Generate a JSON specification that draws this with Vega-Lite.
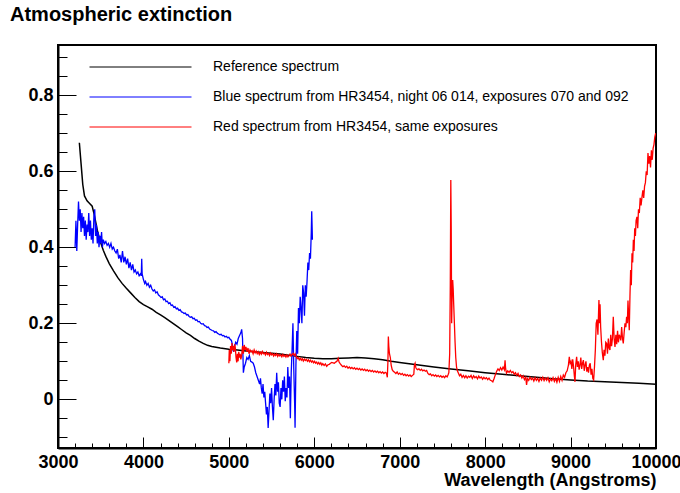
{
  "$schema": "https://vega.github.io/schema/vega-lite/v6.json",
  "width": 598,
  "height": 403,
  "autosize": "none",
  "padding": {"left": 58, "top": 45, "right": 24, "bottom": 45},
  "background": "white",
  "config": {
    "font": "Liberation Sans",
    "view": {"stroke": "#000000", "strokeWidth": 2},
    "axis": {"domainColor": "#000000", "domainWidth": 2, "tickColor": "#000000", "tickWidth": 1, "labelColor": "#000000", "titleColor": "#000000", "grid": false}
  },
  "title": {"text": "Atmospheric extinction", "anchor": "start", "frame": "group", "dx": -48, "dy": -16, "fontSize": 20, "fontWeight": "bold", "font": "Liberation Sans", "color": "#000000"},
  "datasets": {
    "reference": [
      {"w":3250,"v":0.675},{"w":3270,"v":0.62},{"w":3290,"v":0.565},{"w":3310,"v":0.535},{"w":3340,"v":0.522},{"w":3370,"v":0.515},{"w":3400,"v":0.508},{"w":3420,"v":0.49},{"w":3440,"v":0.468},{"w":3460,"v":0.445},{"w":3480,"v":0.428},{"w":3500,"v":0.412},{"w":3530,"v":0.392},{"w":3560,"v":0.376},{"w":3600,"v":0.357},{"w":3650,"v":0.338},{"w":3700,"v":0.32},{"w":3750,"v":0.305},{"w":3800,"v":0.292},{"w":3850,"v":0.28},{"w":3900,"v":0.268},{"w":3950,"v":0.257},{"w":4000,"v":0.249},{"w":4050,"v":0.243},{"w":4100,"v":0.237},{"w":4150,"v":0.229},{"w":4200,"v":0.222},{"w":4250,"v":0.215},{"w":4300,"v":0.207},{"w":4350,"v":0.199},{"w":4400,"v":0.191},{"w":4450,"v":0.183},{"w":4500,"v":0.175},{"w":4550,"v":0.168},{"w":4600,"v":0.16},{"w":4650,"v":0.153},{"w":4700,"v":0.147},{"w":4750,"v":0.142},{"w":4800,"v":0.139},{"w":4850,"v":0.137},{"w":4900,"v":0.135},{"w":5000,"v":0.132},{"w":5100,"v":0.13},{"w":5200,"v":0.127},{"w":5300,"v":0.125},{"w":5400,"v":0.123},{"w":5500,"v":0.121},{"w":5600,"v":0.119},{"w":5700,"v":0.116},{"w":5800,"v":0.113},{"w":5900,"v":0.11},{"w":6000,"v":0.108},{"w":6100,"v":0.107},{"w":6200,"v":0.107},{"w":6300,"v":0.108},{"w":6400,"v":0.109},{"w":6500,"v":0.11},{"w":6600,"v":0.109},{"w":6700,"v":0.107},{"w":6800,"v":0.104},{"w":6900,"v":0.1},{"w":7000,"v":0.097},{"w":7200,"v":0.091},{"w":7400,"v":0.085},{"w":7600,"v":0.08},{"w":7800,"v":0.075},{"w":8000,"v":0.07},{"w":8200,"v":0.066},{"w":8400,"v":0.062},{"w":8600,"v":0.058},{"w":8800,"v":0.054},{"w":9000,"v":0.051},{"w":9200,"v":0.048},{"w":9400,"v":0.046},{"w":9600,"v":0.044},{"w":9800,"v":0.042},{"w":10000,"v":0.04}
    ],
    "blue": [
      {"w":3200,"v":0.40},{"w":3210,"v":0.47},{"w":3220,"v":0.39},{"w":3230,"v":0.46},{"w":3240,"v":0.52},{"w":3250,"v":0.47},{"w":3260,"v":0.50},{"w":3270,"v":0.44},{"w":3280,"v":0.49},{"w":3290,"v":0.45},{"w":3300,"v":0.48},{"w":3310,"v":0.43},{"w":3320,"v":0.47},{"w":3330,"v":0.42},{"w":3340,"v":0.46},{"w":3350,"v":0.44},{"w":3360,"v":0.49},{"w":3370,"v":0.43},{"w":3380,"v":0.47},{"w":3390,"v":0.42},{"w":3400,"v":0.45},{"w":3410,"v":0.41},{"w":3420,"v":0.48},{"w":3430,"v":0.50},{"w":3440,"v":0.43},{"w":3450,"v":0.46},{"w":3460,"v":0.41},{"w":3470,"v":0.44},{"w":3480,"v":0.40},{"w":3490,"v":0.43},{"w":3500,"v":0.41},{"w":3510,"v":0.44},{"w":3520,"v":0.40},{"w":3530,"v":0.42},{"w":3545,"v":0.41},{"w":3560,"v":0.415},{"w":3575,"v":0.405},{"w":3590,"v":0.41},{"w":3605,"v":0.40},{"w":3620,"v":0.41},{"w":3635,"v":0.395},{"w":3650,"v":0.40},{"w":3665,"v":0.39},{"w":3680,"v":0.385},{"w":3695,"v":0.395},{"w":3710,"v":0.37},{"w":3725,"v":0.38},{"w":3740,"v":0.36},{"w":3755,"v":0.39},{"w":3770,"v":0.36},{"w":3785,"v":0.375},{"w":3800,"v":0.355},{"w":3815,"v":0.37},{"w":3830,"v":0.345},{"w":3845,"v":0.36},{"w":3860,"v":0.34},{"w":3875,"v":0.355},{"w":3890,"v":0.335},{"w":3905,"v":0.34},{"w":3920,"v":0.33},{"w":3935,"v":0.335},{"w":3950,"v":0.325},{"w":3965,"v":0.33},{"w":3975,"v":0.325},{"w":3980,"v":0.37},{"w":3985,"v":0.33},{"w":4000,"v":0.315},{"w":4015,"v":0.305},{"w":4025,"v":0.31},{"w":4040,"v":0.30},{"w":4055,"v":0.305},{"w":4070,"v":0.295},{"w":4085,"v":0.30},{"w":4100,"v":0.29},{"w":4115,"v":0.285},{"w":4130,"v":0.288},{"w":4145,"v":0.28},{"w":4160,"v":0.283},{"w":4175,"v":0.275},{"w":4190,"v":0.272},{"w":4205,"v":0.268},{"w":4220,"v":0.27},{"w":4235,"v":0.262},{"w":4250,"v":0.264},{"w":4265,"v":0.257},{"w":4280,"v":0.258},{"w":4295,"v":0.252},{"w":4310,"v":0.254},{"w":4325,"v":0.247},{"w":4340,"v":0.248},{"w":4355,"v":0.242},{"w":4370,"v":0.244},{"w":4385,"v":0.238},{"w":4400,"v":0.24},{"w":4415,"v":0.234},{"w":4430,"v":0.236},{"w":4445,"v":0.23},{"w":4460,"v":0.229},{"w":4475,"v":0.226},{"w":4490,"v":0.227},{"w":4505,"v":0.222},{"w":4520,"v":0.223},{"w":4535,"v":0.218},{"w":4550,"v":0.216},{"w":4565,"v":0.217},{"w":4580,"v":0.212},{"w":4595,"v":0.213},{"w":4610,"v":0.208},{"w":4625,"v":0.209},{"w":4640,"v":0.204},{"w":4655,"v":0.205},{"w":4670,"v":0.2},{"w":4685,"v":0.198},{"w":4700,"v":0.199},{"w":4715,"v":0.194},{"w":4730,"v":0.193},{"w":4745,"v":0.189},{"w":4760,"v":0.19},{"w":4775,"v":0.185},{"w":4790,"v":0.183},{"w":4805,"v":0.181},{"w":4820,"v":0.18},{"w":4835,"v":0.176},{"w":4850,"v":0.178},{"w":4865,"v":0.174},{"w":4880,"v":0.172},{"w":4895,"v":0.17},{"w":4910,"v":0.171},{"w":4925,"v":0.167},{"w":4940,"v":0.168},{"w":4955,"v":0.164},{"w":4970,"v":0.166},{"w":4985,"v":0.162},{"w":5000,"v":0.163},{"w":5015,"v":0.158},{"w":5030,"v":0.155},{"w":5045,"v":0.14},{"w":5055,"v":0.125},{"w":5065,"v":0.138},{"w":5080,"v":0.15},{"w":5095,"v":0.145},{"w":5110,"v":0.16},{"w":5125,"v":0.168},{"w":5140,"v":0.175},{"w":5150,"v":0.184},{"w":5160,"v":0.16},{"w":5170,"v":0.07},{"w":5180,"v":0.085},{"w":5195,"v":0.095},{"w":5210,"v":0.11},{"w":5225,"v":0.105},{"w":5240,"v":0.115},{"w":5255,"v":0.1},{"w":5270,"v":0.098},{"w":5285,"v":0.095},{"w":5300,"v":0.085},{"w":5315,"v":0.07},{"w":5330,"v":0.06},{"w":5345,"v":0.05},{"w":5360,"v":0.04},{"w":5370,"v":0.055},{"w":5380,"v":0.03},{"w":5390,"v":0.015},{"w":5400,"v":0.04},{"w":5410,"v":0.005},{"w":5420,"v":0.02},{"w":5430,"v":-0.01},{"w":5440,"v":-0.04},{"w":5450,"v":-0.02},{"w":5460,"v":-0.075},{"w":5470,"v":-0.03},{"w":5480,"v":0.015},{"w":5490,"v":-0.01},{"w":5500,"v":0.03},{"w":5510,"v":-0.02},{"w":5520,"v":-0.055},{"w":5530,"v":0.0},{"w":5540,"v":0.04},{"w":5550,"v":0.01},{"w":5560,"v":0.07},{"w":5570,"v":0.02},{"w":5580,"v":0.045},{"w":5590,"v":-0.01},{"w":5600,"v":-0.02},{"w":5610,"v":0.03},{"w":5620,"v":0.0},{"w":5630,"v":0.05},{"w":5640,"v":0.02},{"w":5650,"v":0.06},{"w":5660,"v":-0.005},{"w":5670,"v":0.03},{"w":5680,"v":0.005},{"w":5690,"v":0.085},{"w":5700,"v":0.03},{"w":5710,"v":0.06},{"w":5720,"v":-0.05},{"w":5730,"v":0.07},{"w":5740,"v":0.13},{"w":5750,"v":0.2},{"w":5760,"v":0.08},{"w":5770,"v":-0.01},{"w":5775,"v":-0.075},{"w":5785,"v":0.09},{"w":5795,"v":0.18},{"w":5805,"v":0.12},{"w":5815,"v":0.24},{"w":5825,"v":0.2},{"w":5835,"v":0.27},{"w":5845,"v":0.24},{"w":5855,"v":0.2},{"w":5865,"v":0.3},{"w":5875,"v":0.28},{"w":5885,"v":0.22},{"w":5895,"v":0.3},{"w":5905,"v":0.27},{"w":5915,"v":0.31},{"w":5925,"v":0.36},{"w":5935,"v":0.34},{"w":5945,"v":0.385},{"w":5955,"v":0.37},{"w":5965,"v":0.44},{"w":5970,"v":0.495},{"w":5975,"v":0.45},{"w":5978,"v":0.42}
    ],
    "red": [
      {"w":5000,"v":0.095},{"w":5005,"v":0.13},{"w":5012,"v":0.10},{"w":5020,"v":0.14},{"w":5028,"v":0.12},{"w":5036,"v":0.148},{"w":5044,"v":0.13},{"w":5052,"v":0.14},{"w":5060,"v":0.125},{"w":5068,"v":0.145},{"w":5076,"v":0.135},{"w":5084,"v":0.11},{"w":5092,"v":0.097},{"w":5100,"v":0.12},{"w":5108,"v":0.10},{"w":5116,"v":0.125},{"w":5124,"v":0.11},{"w":5132,"v":0.12},{"w":5140,"v":0.105},{"w":5150,"v":0.115},{"w":5160,"v":0.14},{"w":5170,"v":0.12},{"w":5180,"v":0.143},{"w":5190,"v":0.13},{"w":5200,"v":0.138},{"w":5212,"v":0.125},{"w":5224,"v":0.135},{"w":5236,"v":0.12},{"w":5248,"v":0.13},{"w":5260,"v":0.125},{"w":5272,"v":0.128},{"w":5284,"v":0.12},{"w":5296,"v":0.13},{"w":5308,"v":0.122},{"w":5320,"v":0.127},{"w":5332,"v":0.12},{"w":5344,"v":0.125},{"w":5356,"v":0.118},{"w":5368,"v":0.124},{"w":5380,"v":0.119},{"w":5392,"v":0.126},{"w":5404,"v":0.12},{"w":5416,"v":0.122},{"w":5428,"v":0.117},{"w":5440,"v":0.124},{"w":5452,"v":0.118},{"w":5464,"v":0.121},{"w":5476,"v":0.115},{"w":5488,"v":0.122},{"w":5500,"v":0.117},{"w":5512,"v":0.12},{"w":5524,"v":0.114},{"w":5536,"v":0.119},{"w":5548,"v":0.115},{"w":5560,"v":0.12},{"w":5572,"v":0.113},{"w":5584,"v":0.118},{"w":5596,"v":0.114},{"w":5608,"v":0.117},{"w":5620,"v":0.112},{"w":5632,"v":0.118},{"w":5644,"v":0.113},{"w":5656,"v":0.116},{"w":5668,"v":0.111},{"w":5680,"v":0.117},{"w":5692,"v":0.112},{"w":5704,"v":0.115},{"w":5716,"v":0.119},{"w":5728,"v":0.114},{"w":5740,"v":0.118},{"w":5752,"v":0.121},{"w":5764,"v":0.115},{"w":5776,"v":0.12},{"w":5788,"v":0.113},{"w":5800,"v":0.107},{"w":5812,"v":0.11},{"w":5824,"v":0.104},{"w":5836,"v":0.108},{"w":5848,"v":0.103},{"w":5860,"v":0.107},{"w":5872,"v":0.101},{"w":5884,"v":0.106},{"w":5896,"v":0.102},{"w":5908,"v":0.105},{"w":5920,"v":0.1},{"w":5932,"v":0.104},{"w":5944,"v":0.099},{"w":5956,"v":0.103},{"w":5968,"v":0.098},{"w":5980,"v":0.101},{"w":5992,"v":0.096},{"w":6004,"v":0.1},{"w":6016,"v":0.095},{"w":6028,"v":0.098},{"w":6040,"v":0.093},{"w":6052,"v":0.097},{"w":6064,"v":0.092},{"w":6076,"v":0.096},{"w":6088,"v":0.09},{"w":6100,"v":0.094},{"w":6115,"v":0.089},{"w":6130,"v":0.093},{"w":6145,"v":0.087},{"w":6160,"v":0.091},{"w":6175,"v":0.092},{"w":6190,"v":0.095},{"w":6205,"v":0.097},{"w":6220,"v":0.096},{"w":6235,"v":0.095},{"w":6250,"v":0.098},{"w":6265,"v":0.1},{"w":6280,"v":0.108},{"w":6290,"v":0.098},{"w":6305,"v":0.093},{"w":6320,"v":0.089},{"w":6335,"v":0.086},{"w":6350,"v":0.088},{"w":6365,"v":0.084},{"w":6380,"v":0.087},{"w":6395,"v":0.082},{"w":6410,"v":0.085},{"w":6425,"v":0.081},{"w":6440,"v":0.084},{"w":6455,"v":0.08},{"w":6470,"v":0.083},{"w":6485,"v":0.079},{"w":6500,"v":0.082},{"w":6515,"v":0.078},{"w":6530,"v":0.081},{"w":6545,"v":0.077},{"w":6560,"v":0.08},{"w":6575,"v":0.076},{"w":6590,"v":0.079},{"w":6605,"v":0.075},{"w":6620,"v":0.078},{"w":6635,"v":0.074},{"w":6650,"v":0.077},{"w":6665,"v":0.073},{"w":6680,"v":0.076},{"w":6695,"v":0.072},{"w":6710,"v":0.075},{"w":6725,"v":0.071},{"w":6740,"v":0.074},{"w":6755,"v":0.07},{"w":6770,"v":0.073},{"w":6785,"v":0.069},{"w":6800,"v":0.072},{"w":6815,"v":0.068},{"w":6830,"v":0.071},{"w":6845,"v":0.069},{"w":6855,"v":0.058},{"w":6862,"v":0.1},{"w":6867,"v":0.165},{"w":6872,"v":0.14},{"w":6880,"v":0.12},{"w":6890,"v":0.11},{"w":6900,"v":0.09},{"w":6912,"v":0.078},{"w":6925,"v":0.074},{"w":6940,"v":0.071},{"w":6955,"v":0.068},{"w":6970,"v":0.072},{"w":6985,"v":0.066},{"w":7000,"v":0.069},{"w":7015,"v":0.065},{"w":7030,"v":0.068},{"w":7045,"v":0.063},{"w":7060,"v":0.066},{"w":7075,"v":0.062},{"w":7090,"v":0.065},{"w":7105,"v":0.061},{"w":7120,"v":0.064},{"w":7135,"v":0.06},{"w":7150,"v":0.063},{"w":7165,"v":0.066},{"w":7172,"v":0.09},{"w":7180,"v":0.095},{"w":7188,"v":0.084},{"w":7196,"v":0.08},{"w":7210,"v":0.078},{"w":7225,"v":0.08},{"w":7240,"v":0.076},{"w":7255,"v":0.079},{"w":7270,"v":0.075},{"w":7285,"v":0.077},{"w":7300,"v":0.074},{"w":7315,"v":0.076},{"w":7330,"v":0.068},{"w":7345,"v":0.065},{"w":7360,"v":0.067},{"w":7375,"v":0.062},{"w":7390,"v":0.065},{"w":7405,"v":0.061},{"w":7420,"v":0.064},{"w":7435,"v":0.06},{"w":7450,"v":0.063},{"w":7465,"v":0.059},{"w":7480,"v":0.062},{"w":7495,"v":0.058},{"w":7510,"v":0.061},{"w":7525,"v":0.057},{"w":7540,"v":0.062},{"w":7555,"v":0.059},{"w":7565,"v":0.064},{"w":7575,"v":0.07},{"w":7585,"v":0.12},{"w":7592,"v":0.3},{"w":7598,"v":0.577},{"w":7603,"v":0.45},{"w":7608,"v":0.2},{"w":7614,"v":0.28},{"w":7620,"v":0.314},{"w":7626,"v":0.29},{"w":7632,"v":0.25},{"w":7640,"v":0.2},{"w":7648,"v":0.15},{"w":7656,"v":0.11},{"w":7665,"v":0.085},{"w":7675,"v":0.075},{"w":7685,"v":0.07},{"w":7700,"v":0.062},{"w":7715,"v":0.066},{"w":7730,"v":0.058},{"w":7745,"v":0.063},{"w":7760,"v":0.057},{"w":7775,"v":0.062},{"w":7790,"v":0.056},{"w":7805,"v":0.061},{"w":7820,"v":0.058},{"w":7835,"v":0.063},{"w":7850,"v":0.055},{"w":7865,"v":0.062},{"w":7880,"v":0.057},{"w":7895,"v":0.06},{"w":7910,"v":0.054},{"w":7925,"v":0.061},{"w":7940,"v":0.056},{"w":7955,"v":0.059},{"w":7970,"v":0.053},{"w":7985,"v":0.058},{"w":8000,"v":0.054},{"w":8015,"v":0.057},{"w":8030,"v":0.052},{"w":8045,"v":0.056},{"w":8060,"v":0.05},{"w":8075,"v":0.049},{"w":8090,"v":0.046},{"w":8105,"v":0.055},{"w":8120,"v":0.065},{"w":8135,"v":0.074},{"w":8150,"v":0.08},{"w":8165,"v":0.076},{"w":8180,"v":0.083},{"w":8195,"v":0.077},{"w":8210,"v":0.085},{"w":8225,"v":0.078},{"w":8233,"v":0.103},{"w":8240,"v":0.08},{"w":8250,"v":0.069},{"w":8265,"v":0.075},{"w":8280,"v":0.071},{"w":8295,"v":0.076},{"w":8310,"v":0.07},{"w":8325,"v":0.073},{"w":8340,"v":0.066},{"w":8355,"v":0.07},{"w":8370,"v":0.063},{"w":8385,"v":0.068},{"w":8400,"v":0.06},{"w":8415,"v":0.064},{"w":8430,"v":0.056},{"w":8445,"v":0.062},{"w":8460,"v":0.052},{"w":8475,"v":0.058},{"w":8485,"v":0.038},{"w":8495,"v":0.055},{"w":8510,"v":0.05},{"w":8525,"v":0.058},{"w":8540,"v":0.052},{"w":8555,"v":0.056},{"w":8570,"v":0.048},{"w":8585,"v":0.057},{"w":8600,"v":0.05},{"w":8615,"v":0.055},{"w":8630,"v":0.047},{"w":8645,"v":0.056},{"w":8660,"v":0.05},{"w":8675,"v":0.058},{"w":8690,"v":0.049},{"w":8705,"v":0.056},{"w":8720,"v":0.05},{"w":8735,"v":0.057},{"w":8750,"v":0.046},{"w":8765,"v":0.054},{"w":8780,"v":0.049},{"w":8795,"v":0.057},{"w":8810,"v":0.047},{"w":8825,"v":0.055},{"w":8840,"v":0.045},{"w":8855,"v":0.058},{"w":8870,"v":0.047},{"w":8885,"v":0.06},{"w":8900,"v":0.05},{"w":8915,"v":0.064},{"w":8930,"v":0.058},{"w":8945,"v":0.07},{"w":8960,"v":0.075},{"w":8975,"v":0.09},{"w":8985,"v":0.112},{"w":8995,"v":0.095},{"w":9005,"v":0.1},{"w":9015,"v":0.08},{"w":9025,"v":0.105},{"w":9035,"v":0.086},{"w":9045,"v":0.06},{"w":9052,"v":0.046},{"w":9060,"v":0.09},{"w":9071,"v":0.112},{"w":9080,"v":0.085},{"w":9090,"v":0.1},{"w":9100,"v":0.078},{"w":9110,"v":0.09},{"w":9120,"v":0.11},{"w":9130,"v":0.08},{"w":9140,"v":0.095},{"w":9150,"v":0.103},{"w":9160,"v":0.075},{"w":9170,"v":0.09},{"w":9180,"v":0.1},{"w":9190,"v":0.073},{"w":9200,"v":0.085},{"w":9210,"v":0.07},{"w":9220,"v":0.09},{"w":9230,"v":0.095},{"w":9240,"v":0.065},{"w":9250,"v":0.08},{"w":9260,"v":0.055},{"w":9270,"v":0.051},{"w":9280,"v":0.086},{"w":9290,"v":0.13},{"w":9300,"v":0.2},{"w":9310,"v":0.21},{"w":9320,"v":0.17},{"w":9332,"v":0.261},{"w":9340,"v":0.2},{"w":9345,"v":0.25},{"w":9352,"v":0.191},{"w":9362,"v":0.15},{"w":9372,"v":0.122},{"w":9383,"v":0.103},{"w":9392,"v":0.13},{"w":9402,"v":0.115},{"w":9412,"v":0.15},{"w":9422,"v":0.147},{"w":9432,"v":0.12},{"w":9442,"v":0.16},{"w":9452,"v":0.135},{"w":9461,"v":0.13},{"w":9470,"v":0.17},{"w":9480,"v":0.14},{"w":9490,"v":0.16},{"w":9500,"v":0.217},{"w":9510,"v":0.16},{"w":9520,"v":0.138},{"w":9530,"v":0.17},{"w":9540,"v":0.145},{"w":9550,"v":0.18},{"w":9560,"v":0.15},{"w":9570,"v":0.17},{"w":9578,"v":0.165},{"w":9588,"v":0.155},{"w":9598,"v":0.19},{"w":9608,"v":0.16},{"w":9617,"v":0.147},{"w":9627,"v":0.175},{"w":9637,"v":0.2},{"w":9647,"v":0.19},{"w":9656,"v":0.217},{"w":9665,"v":0.2},{"w":9672,"v":0.26},{"w":9680,"v":0.22},{"w":9687,"v":0.182},{"w":9695,"v":0.27},{"w":9703,"v":0.34},{"w":9711,"v":0.3},{"w":9719,"v":0.384},{"w":9727,"v":0.36},{"w":9735,"v":0.42},{"w":9743,"v":0.39},{"w":9751,"v":0.45},{"w":9759,"v":0.43},{"w":9767,"v":0.47},{"w":9777,"v":0.48},{"w":9786,"v":0.45},{"w":9795,"v":0.5},{"w":9805,"v":0.49},{"w":9815,"v":0.53},{"w":9825,"v":0.51},{"w":9836,"v":0.532},{"w":9846,"v":0.55},{"w":9856,"v":0.53},{"w":9866,"v":0.56},{"w":9876,"v":0.57},{"w":9886,"v":0.6},{"w":9896,"v":0.59},{"w":9906,"v":0.648},{"w":9916,"v":0.62},{"w":9926,"v":0.64},{"w":9936,"v":0.61},{"w":9946,"v":0.655},{"w":9956,"v":0.63},{"w":9966,"v":0.66},{"w":9976,"v":0.67},{"w":9986,"v":0.69},{"w":9996,"v":0.7}
    ]
  },
  "encoding": {
    "x": {
      "field": "w", "type": "quantitative",
      "scale": {"domain": [3000, 10000], "nice": false, "zero": false},
      "axis": {
        "values": [3000,3200,3400,3600,3800,4000,4200,4400,4600,4800,5000,5200,5400,5600,5800,6000,6200,6400,6600,6800,7000,7200,7400,7600,7800,8000,8200,8400,8600,8800,9000,9200,9400,9600,9800,10000],
        "labelExpr": "datum.value % 1000 === 0 ? format(datum.value, 'd') : ''",
        "tickSize": {"condition": {"test": "datum.value % 1000 === 0", "value": -11}, "value": -5},
        "labelPadding": 16,
        "labelFontSize": 18, "labelFontWeight": "bold", "labelFont": "Liberation Sans",
        "labelOverlap": false, "labelFlush": false,
        "title": "Wavelength (Angstroms)", "titleAnchor": "end", "titleFontSize": 18, "titleFontWeight": "bold", "titleFont": "Liberation Sans", "titlePadding": -6
      }
    },
    "y": {
      "field": "v", "type": "quantitative",
      "scale": {"domain": [-0.128, 0.932], "nice": false, "zero": false},
      "axis": {
        "values": [-0.1,-0.05,0,0.05,0.1,0.15,0.2,0.25,0.3,0.35,0.4,0.45,0.5,0.55,0.6,0.65,0.7,0.75,0.8,0.85,0.9],
        "labelExpr": "abs(datum.value*5 - round(datum.value*5)) < 0.001 ? (abs(datum.value) < 0.001 ? '0' : format(datum.value, '.1f')) : ''",
        "tickSize": {"condition": {"test": "abs(datum.value*5 - round(datum.value*5)) < 0.001", "value": -18}, "value": -9},
        "labelPadding": 23,
        "labelFontSize": 18, "labelFontWeight": "bold", "labelFont": "Liberation Sans",
        "labelOverlap": false, "labelFlush": false,
        "title": null
      }
    },
    "color": {
      "type": "nominal",
      "scale": {"domain": ["Reference spectrum", "Blue spectrum from HR3454, night 06 014, exposures 070 and 092", "Red spectrum from HR3454, same exposures"], "range": ["#000000", "#0000ff", "#ff0000"]},
      "legend": {
        "orient": "none", "legendX": 31, "legendY": 14, "title": null, "direction": "vertical",
        "symbolType": "stroke", "symbolSize": 10404, "symbolStrokeWidth": 1, "clipHeight": 16, "rowPadding": 14,
        "labelFontSize": 14, "labelFont": "Liberation Sans", "labelColor": "#000000", "labelOffset": 21, "labelLimit": 700, "padding": 0
      }
    }
  },
  "layer": [
    {"data": {"name": "reference"}, "mark": {"type": "line", "strokeWidth": 1.5, "clip": true}, "encoding": {"color": {"datum": "Reference spectrum"}}},
    {"data": {"name": "blue"}, "mark": {"type": "line", "strokeWidth": 1.3, "clip": true}, "encoding": {"color": {"datum": "Blue spectrum from HR3454, night 06 014, exposures 070 and 092"}}},
    {"data": {"name": "red"}, "mark": {"type": "line", "strokeWidth": 1.3, "clip": true}, "encoding": {"color": {"datum": "Red spectrum from HR3454, same exposures"}}}
  ]
}
